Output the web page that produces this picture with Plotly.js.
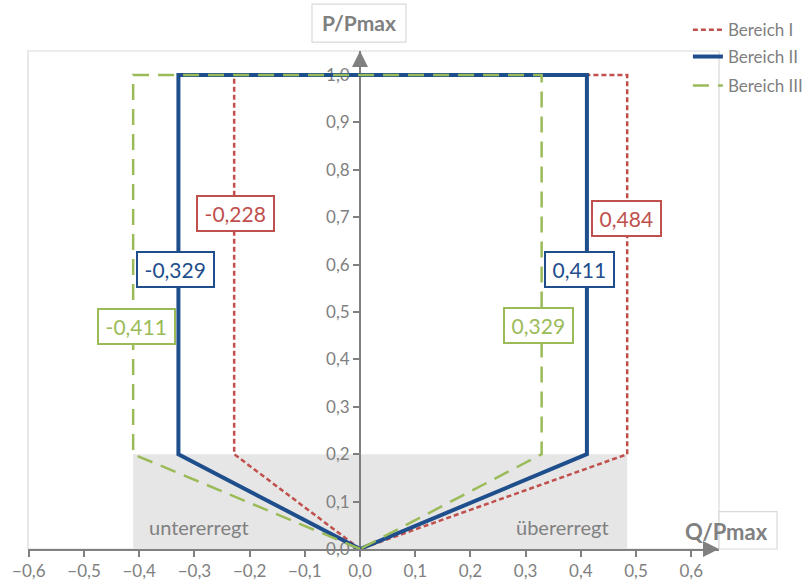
<!DOCTYPE html>
<html>
<head>
<meta charset="utf-8">
<script src="https://cdn.plot.ly/plotly-3.0.1.min.js"></script>
<style>html,body{margin:0;padding:0;background:#fff}#chart{width:811px;height:588px}</style>
</head>
<body>
<div id="chart"></div>
<script>
// ---- data ----
const seriesNames = ['Bereich I', 'Bereich II', 'Bereich III'];
const xBereichI   = [0, -0.228, -0.228, 0.484, 0.484, 0];
const yBereichI   = [0, 0.2, 1.0, 1.0, 0.2, 0];
const xBereichII  = [0, -0.329, -0.329, 0.411, 0.411, 0];
const yBereichII  = [0, 0.2, 1.0, 1.0, 0.2, 0];
const xBereichIII = [0, -0.411, -0.411, 0.329, 0.329, 0];
const yBereichIII = [0, 0.2, 1.0, 1.0, 0.2, 0];
const xTicks = [-0.6, -0.5, -0.4, -0.3, -0.2, -0.1, 0, 0.1, 0.2, 0.3, 0.4, 0.5, 0.6];
const yTicks = [0, 0.1, 0.2, 0.3, 0.4, 0.5, 0.6, 0.7, 0.8, 0.9, 1.0];
const regionLabels = ['untererregt', 'übererregt'];
const axisTitles = ['P/Pmax', 'Q/Pmax'];

const colors = ['#c0504d', '#1f4e8c', '#9bbb59'];
const gray = '#808080';
const FONT = 'Lato, "Open Sans", sans-serif';

const fmt = v => v.toFixed(3).replace('.', ',');

const traces = [
  {x: xBereichI, y: yBereichI, name: seriesNames[0], mode: 'lines', legend: 'legend',
   line: {color: colors[0], width: 2.5, dash: '5px,3px'}},
  {x: xBereichII, y: yBereichII, name: seriesNames[1], mode: 'lines', legend: 'legend2',
   line: {color: colors[1], width: 4}},
  {x: xBereichIII, y: yBereichIII, name: seriesNames[2], mode: 'lines', legend: 'legend3',
   line: {color: colors[2], width: 2.5, dash: '16px,9px'}}
];

// value labels
const labelDefs = [
  {v: xBereichI[1],   c: colors[0], y: 0.707, xs: 1},
  {v: xBereichII[1],  c: colors[1], y: 0.589, xs: -3},
  {v: xBereichIII[1], c: colors[2], y: 0.469, xs: 3},
  {v: xBereichI[3],   c: colors[0], y: 0.697, xs: -1},
  {v: xBereichII[3],  c: colors[1], y: 0.589, xs: -7},
  {v: xBereichIII[3], c: colors[2], y: 0.471, xs: -3}
];
const annotations = labelDefs.map(d => ({
  x: d.v, y: d.y, xref: 'x', yref: 'y', xshift: d.xs, text: '\u2009' + fmt(d.v) + '\u2009', showarrow: false,
  xanchor: 'center', yanchor: 'middle',
  font: {family: FONT, size: 21, color: d.c}, bgcolor: '#ffffff',
  bordercolor: d.c, borderwidth: 2, borderpad: 4
}));

annotations.push(
  {x: -0.292, y: 0.046, xref: 'x', yref: 'y', text: regionLabels[0], showarrow: false,
   xanchor: 'center', yanchor: 'middle', font: {family: FONT, size: 20, color: gray}},
  {x: 0.367, y: 0.046, xref: 'x', yref: 'y', text: regionLabels[1], showarrow: false,
   xanchor: 'center', yanchor: 'middle', font: {family: FONT, size: 20, color: gray}},
  {x: 0.479, y: 1.058, xref: 'paper', yref: 'paper', text: '<b>' + axisTitles[0] + '</b>', showarrow: false,
   xanchor: 'center', yanchor: 'middle', font: {family: FONT, size: 21, color: gray}},
  {x: 1.011, y: 0.035, xref: 'paper', yref: 'paper', text: '<b>' + axisTitles[1] + '</b>', showarrow: false,
   xanchor: 'center', yanchor: 'middle', font: {family: FONT, size: 22, color: gray}},
  // axis arrowheads
  {x: 0, y: 1, xref: 'x', yref: 'paper', ax: 0, ay: 14, axref: 'pixel', ayref: 'pixel',
   text: '', showarrow: true, arrowhead: 2, arrowsize: 1.6, arrowwidth: 2, arrowcolor: gray},
  {x: 1, y: 0, xref: 'paper', yref: 'y', ax: -14, ay: 0, axref: 'pixel', ayref: 'pixel',
   text: '', showarrow: true, arrowhead: 2, arrowsize: 1.6, arrowwidth: 2, arrowcolor: gray}
);

const allX = xBereichI.concat(xBereichII, xBereichIII);
const shapes = [
  {type: 'rect', xref: 'paper', yref: 'paper', x0: 0, x1: 1, y0: 0, y1: 1,
   line: {color: '#d9d9d9', width: 1.2}, layer: 'below'},
  {type: 'rect', xref: 'x', yref: 'y', x0: Math.min(...allX), x1: Math.max(...allX), y0: 0, y1: 0.2,
   fillcolor: '#e6e6e6', line: {width: 0}, layer: 'below'},
  {type: 'rect', xref: 'paper', yref: 'paper', x0: 0.411, x1: 0.547, y0: 1.018, y1: 1.094,
   line: {color: '#d9d9d9', width: 1.2}, fillcolor: '#ffffff'},
  {type: 'rect', xref: 'paper', yref: 'paper', x0: 1.0, x1: 1.084, y0: 0.0, y1: 0.075,
   line: {color: '#d9d9d9', width: 1.2}, fillcolor: '#ffffff'}
];

const legendBase = {
  xanchor: 'left', yanchor: 'middle', x: 0.955, bgcolor: 'rgba(0,0,0,0)',
  font: {family: FONT, size: 17, color: gray}, itemwidth: 30, borderwidth: 0
};

const layout = {
  width: 811, height: 588,
  margin: {l: 28, r: 92, t: 51, b: 39, pad: 0, autoexpand: false},
  paper_bgcolor: '#ffffff', plot_bgcolor: 'rgba(0,0,0,0)',
  separators: ',.',
  showlegend: true,
  legend:  Object.assign({}, legendBase, {y: 1.042}),
  legend2: Object.assign({}, legendBase, {y: 0.988}),
  legend3: Object.assign({}, legendBase, {y: 0.930}),
  xaxis: {
    range: [-0.6015, 0.6503], tickvals: xTicks, tickformat: '.1f', automargin: false,
    showgrid: false, zeroline: false, showline: true, linecolor: gray, linewidth: 2,
    ticks: 'outside', ticklen: 6, tickcolor: gray, tickwidth: 2,
    tickfont: {family: FONT, size: 17, color: gray}, layer: 'below traces', fixedrange: true
  },
  yaxis: {
    range: [0, 1.0506], tickvals: yTicks, tickformat: '.1f', automargin: false,
    anchor: 'free', position: 0.4805,
    showgrid: false, zeroline: false, showline: true, linecolor: gray, linewidth: 2,
    ticks: 'outside', ticklen: 6, tickcolor: gray, tickwidth: 2,
    tickfont: {family: FONT, size: 17, color: gray}, layer: 'below traces', fixedrange: true
  },
  shapes: shapes,
  annotations: annotations
};

Plotly.newPlot('chart', traces, layout, {displayModeBar: false, staticPlot: true});
</script>
</body>
</html>
